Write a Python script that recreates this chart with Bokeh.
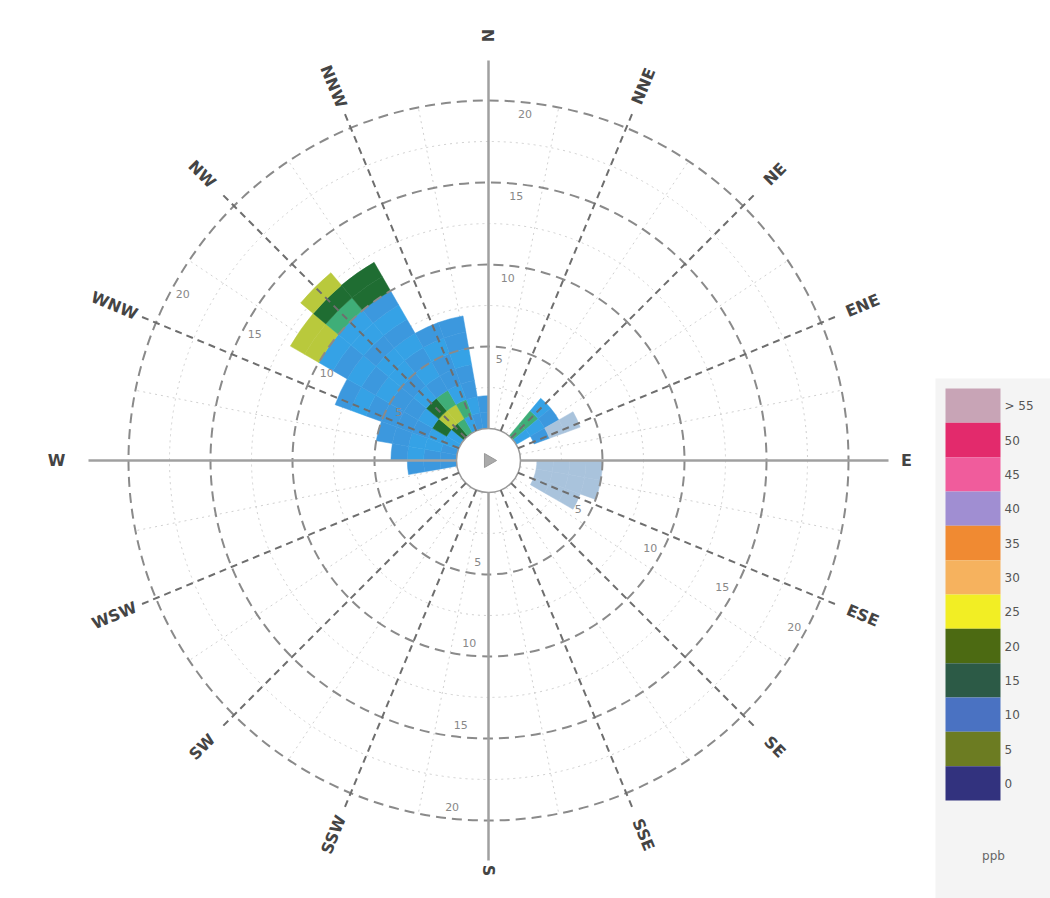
import math
from bokeh.plotting import figure
from bokeh.models import Range1d, ColumnDataSource
from bokeh.core.properties import value
from bokeh.embed import file_html
from bokeh.resources import INLINE

# ---------------- data ----------------
compass_labels = ["N", "NNE", "NE", "ENE", "E", "ESE", "SE", "SSE",
                  "S", "SSW", "SW", "WSW", "W", "WNW", "NW", "NNW"]
ring_values = [0, 5, 10, 15, 20]          # radial axis values (circles)
ring_tick_labels = ["0", "5", "10", "15", "20"]

# polar cells: direction bin centre (deg, clockwise from N), 10 deg wide,
# values for radial bins 0..12 (0 = no data)
cell_dirs = [45, 55, 65, 95, 105, 115, 265, 275, 285, 295, 305, 315, 325, 335, 345, 355]
cell_vals = [
    [4, 4, 3, 0, 0, 0, 0, 0, 0, 0, 0, 0, 0],
    [3, 3, 2, 0, 0, 0, 0, 0, 0, 0, 0, 0, 0],
    [0, 2, 1, 1, 0, 0, 0, 0, 0, 0, 0, 0, 0],
    [0, 1, 1, 1, 1, 0, 0, 0, 0, 0, 0, 0, 0],
    [0, 1, 1, 1, 1, 0, 0, 0, 0, 0, 0, 0, 0],
    [0, 1, 1, 1, 0, 0, 0, 0, 0, 0, 0, 0, 0],
    [2, 2, 2, 0, 0, 0, 0, 0, 0, 0, 0, 0, 0],
    [2, 2, 3, 2, 0, 0, 0, 0, 0, 0, 0, 0, 0],
    [2, 3, 3, 2, 2, 0, 0, 0, 0, 0, 0, 0, 0],
    [3, 3, 2, 2, 2, 2, 3, 2, 0, 0, 0, 0, 0],
    [3, 5, 3, 2, 2, 3, 2, 3, 2, 3, 6, 6, 0],
    [5, 6, 5, 3, 2, 3, 3, 2, 3, 3, 4, 5, 6],
    [4, 6, 4, 2, 3, 2, 3, 2, 3, 2, 5, 5, 0],
    [3, 4, 3, 2, 2, 3, 2, 0, 0, 0, 0, 0, 0],
    [2, 3, 2, 2, 3, 2, 2, 0, 0, 0, 0, 0, 0],
    [2, 2, 0, 0, 0, 0, 0, 0, 0, 0, 0, 0, 0],
]
heat_palette = ["#a9c3dc", "#3c98de", "#35a2e6", "#3fae78", "#1f6d32", "#b9c93c"]

legend_colors = ["#c8a4b6", "#e32a6c", "#f05c9c", "#a08ed2", "#f08a32", "#f6b25e",
                 "#f2ee24", "#4c6a12", "#2c5a46", "#4a72c2", "#6c7c22", "#32327e"]
legend_labels = ["> 55", "50", "45", "40", "35", "30", "25", "20", "15", "10", "5", "0"]

# ---------------- geometry helpers ----------------
R0 = 32.0        # radius of inner hole
PX_PER_UNIT = 16.4

def rad(v):
    return R0 + v * PX_PER_UNIT

def xy(r, comp_deg):
    t = math.radians(comp_deg)
    return r * math.sin(t), r * math.cos(t)

p = figure(width=1050, height=898, output_backend="svg", toolbar_location=None,
           x_range=Range1d(-488, 562), y_range=Range1d(-438, 460),
           min_border=0, outline_line_color=None, background_fill_color="white")
p.axis.visible = False
p.grid.visible = False

# faint minor circles
for v in [2.5, 7.5, 12.5, 17.5]:
    p.circle(x=0, y=0, radius=rad(v), fill_color=None, line_color="#cfcfcf",
             line_dash="2 4", line_width=1)
# faint minor spokes
for k in range(16):
    a = k * 22.5 + 11.25
    x1, y1 = xy(R0, a)
    x2, y2 = xy(rad(20), a)
    p.line([x1, x2], [y1, y2], line_color="#d0d0d0", line_dash="2 4", line_width=1)

# heat cells
xs, ys, rin, rout, sa, ea, cols = [], [], [], [], [], [], []
for d, row in zip(cell_dirs, cell_vals):
    for i, v in enumerate(row):
        if v == 0:
            continue
        rin.append(rad(i))
        rout.append(rad(i + 1))
        sa.append(math.radians(90 - (d + 5)))
        ea.append(math.radians(90 - (d - 5)))
        cols.append(heat_palette[v - 1])
        xs.append(0)
        ys.append(0)
src = ColumnDataSource(dict(x=xs, y=ys, ri=rin, ro=rout, sa=sa, ea=ea, c=cols))
p.annular_wedge(x="x", y="y", inner_radius="ri", outer_radius="ro",
                start_angle="sa", end_angle="ea", fill_color="c", line_color="c",
                line_width=0.5, source=src)

# major circles
for v in ring_values[1:]:
    p.circle(x=0, y=0, radius=rad(v), fill_color=None, line_color="#8a8a8a",
             line_dash="10 6", line_width=2)
p.circle(x=0, y=0, radius=R0, fill_color="white", line_color="#9a9a9a", line_width=1.5)

# spokes
for k, lab in enumerate(compass_labels):
    a = k * 22.5
    if k % 4 == 0:
        x1, y1 = xy(R0, a)
        x2, y2 = xy(400, a)
        p.line([x1, x2], [y1, y2], line_color="#a0a0a0", line_width=2.5)
    else:
        x1, y1 = xy(R0, a)
        x2, y2 = xy(378, a)
        p.line([x1, x2], [y1, y2], line_color="#6e6e6e", line_dash="7 5", line_width=2)

# compass labels (radial orientation)
label_r = {0: 425, 4: 418, 8: 410, 12: 432}
for k, lab in enumerate(compass_labels):
    a = k * 22.5
    lx, ly = xy(label_r.get(k, 405), a)
    m = 90 - a
    ang = m if -90 <= ((m + 180) % 360 - 180) <= 90 else m + 180
    p.text(x=[lx], y=[ly], text=[lab], angle=math.radians(ang),
           text_align="center", text_baseline="middle",
           text_font=value("DejaVu Sans"), text_font_size="16px",
           text_font_style="bold", text_color="#444444")

# radial tick labels along several spokes
for v, t in zip(ring_values[1:], ring_tick_labels[1:]):
    for a in [0, 180, 292.5, 112.5]:
        tx, ty = xy(rad(v) - 12, a + 6)
        p.text(x=[tx], y=[ty], text=[t], text_align="center", text_baseline="middle",
               text_font=value("DejaVu Sans"), text_font_size="11px", text_color="#888888")

# centre marker
p.scatter(x=[0], y=[0], marker="triangle", angle=math.radians(-90), size=14,
          fill_color="#aaaaaa", line_color="#999999")

# legend / colour key on the right
p.quad(left=[447], right=[562], bottom=[-438], top=[82], fill_color="#f4f4f4", line_color=None)
n = len(legend_colors)
top, bottom = 72, -340
h = (top - bottom) / n
tops = [top - i * h for i in range(n)]
bots = [t - h for t in tops]
p.quad(left=[457] * n, right=[512] * n, top=tops, bottom=bots,
       fill_color=legend_colors, line_color=None)
p.text(x=[516] * n, y=[(t + b) / 2 for t, b in zip(tops, bots)], text=legend_labels,
       text_baseline="middle", text_font=value("DejaVu Sans"), text_font_size="12px",
       text_color="#555555")
p.text(x=[505], y=[-395], text=["ppb"], text_align="center", text_baseline="middle",
       text_font=value("DejaVu Sans"), text_font_size="12px", text_color="#666666")

open("out.html", "w").write(file_html(p, INLINE))
